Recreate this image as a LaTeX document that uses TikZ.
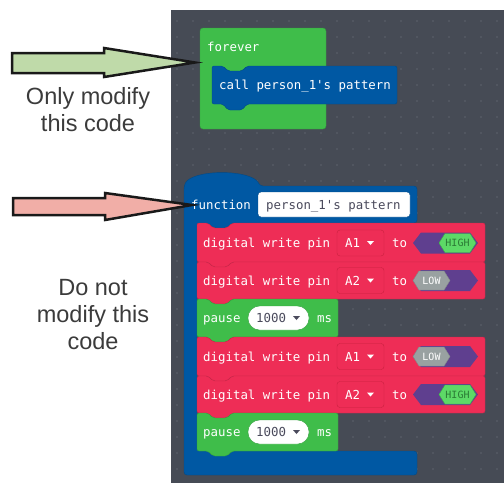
\documentclass[tikz,border=0pt]{standalone}
\usepackage{fontspec}
\setmainfont{Liberation Sans}
\newfontfamily\codefont{DejaVu Sans Mono}
\definecolor{panel}{HTML}{464B55}
\definecolor{gridDot}{HTML}{5D626C}
\definecolor{loopGreen}{HTML}{3FBD4A}
\definecolor{loopEdge}{HTML}{30A03C}
\definecolor{funcBlue}{HTML}{0058A3}
\definecolor{funcEdge}{HTML}{004A88}
\definecolor{pinRed}{HTML}{EE2D56}
\definecolor{pinEdge}{HTML}{C8213F}
\definecolor{boolPurple}{HTML}{5F3F8F}
\definecolor{highGreen}{HTML}{5DD967}
\definecolor{highEdge}{HTML}{3DB048}
\definecolor{highText}{HTML}{2B7A35}
\definecolor{lowGray}{HTML}{99A1A1}
\definecolor{fieldText}{HTML}{4A4A5C}
\definecolor{okArrow}{HTML}{BFDAA9}
\definecolor{noArrow}{HTML}{F1AEA7}
\definecolor{noteText}{HTML}{3B3B3B}

% one statement block: fill, top, right, bottom (left edge is 197)
\newcommand{\stmt}[4]{\filldraw[fill=#1, draw=#1!85!black, rounded corners=2] (197,#2) -- (208,#2) -- (213,#2+5) -- (227,#2+5) -- (232,#2) -- (#3,#2) -- (#3,#4) -- (232,#4) -- (227,#4+5) -- (213,#4+5) -- (208,#4) -- (197,#4) -- cycle;}
% digital write row: name, centre y, pin
\newcommand{\pinrow}[3]{
	\node[code] (#1) at (203,#2) {digital write pin};
	\draw[fill=pinRed, draw=pinEdge, rounded corners=3] (337,#2-13) rectangle (384,#2+13);
	\node[code] (#1pin) at (345,#2) {#3};
	\fill[white] (367,#2-2) -- (374,#2-2) -- (370.5,#2+2) -- cycle;
	\node[code] (#1to) at (392,#2) {to};
	\fill[boolPurple] (413,#2) -- (421,#2-10.5) -- (470,#2-10.5) -- (478,#2) -- (470,#2+10.5) -- (421,#2+10.5) -- cycle;
}
\newcommand{\highval}[2]{
	\filldraw[fill=highGreen, draw=highEdge] (439,#2) -- (445,#2-9.5) -- (470,#2-9.5) -- (476,#2) -- (470,#2+9.5) -- (445,#2+9.5) -- cycle;
	\node[small, text=highText] (#1) at (457.5,#2) {HIGH};
}
\newcommand{\lowval}[2]{
	\filldraw[fill=lowGray, draw=lowGray!85!black] (413,#2) -- (419,#2-9.5) -- (444,#2-9.5) -- (450,#2) -- (444,#2+9.5) -- (419,#2+9.5) -- cycle;
	\node[small, text=white] (#1) at (431.5,#2) {LOW};
}
% pause row: name, centre y
\newcommand{\pauserow}[2]{
	\node[code] (#1) at (203,#2) {pause};
	\draw[fill=white, draw=loopEdge, rounded corners=11.5] (248,#2-12) rectangle (309,#2+12);
	\node[code, text=fieldText] (#1ms) at (256,#2) {1000};
	\fill[fieldText] (293,#2-2) -- (300,#2-2) -- (296.5,#2+2) -- cycle;
	\node[code] (#1unit) at (317,#2) {ms};
}

\begin{document}
\begin{tikzpicture}[x=1pt, y=-1pt,
		code/.style={font=\codefont\fontsize{12.4}{14}\selectfont, text=white, inner sep=0, anchor=west, text height=9pt, text depth=0pt},
		small/.style={font=\codefont\fontsize{10}{12}\selectfont, inner sep=0, text height=7pt, text depth=0pt},
		note/.style={font=\fontsize{23.5}{27}\selectfont, text=noteText, align=center, inner sep=0, anchor=base},
		arrowbody/.style={draw=black!90, line width=2.5pt, line join=miter}]
	\useasboundingbox (0,0) rectangle (504,483);

	% workspace
	\fill[panel] (171,10) rectangle (504,483);
	\foreach \i in {0,...,20}
		\foreach \j in {0,...,28}
			\fill[gridDot] (177+16*\i,21+16*\j) circle (0.9);

	% forever loop
	\filldraw[fill=loopGreen, draw=loopEdge, rounded corners=3] (200,28) rectangle (326,129);
	\node[code] (forever) at (207,47) {forever};
	\filldraw[fill=funcBlue, draw=funcEdge, rounded corners=2] (212,66) -- (223,66) -- (228,71) -- (242,71) -- (247,66) -- (397,66) -- (397,104) -- (247,104) -- (242,110) -- (228,110) -- (223,104) -- (212,104) -- cycle;
	\node[code] (call) at (219,85) {call person\_1's pattern};

	% function definition
	\filldraw[fill=funcBlue, draw=funcEdge, rounded corners=3] (184,186) .. controls (192,169) and (252,169) .. (260,186) -- (417,186) -- (417,223) -- (232,223) -- (227,228) -- (213,228) -- (208,223) -- (197,223) -- (197,451) -- (417,451) -- (417,475) -- (184,475) -- cycle;
	\node[code] (func) at (191,205) {function};
	\draw[fill=white, draw=funcEdge, rounded corners=3] (258,192) rectangle (410,217);
	\node[code, text=fieldText] (funcname) at (266,205) {person\_1's pattern};

	\stmt{pinRed}{223}{485}{262}
	\pinrow{rowa}{243}{A1}
	\highval{vala}{243}
	\stmt{pinRed}{262}{485}{299}
	\pinrow{rowb}{280.5}{A2}
	\lowval{valb}{280.5}
	\stmt{loopGreen}{299}{338}{337}
	\pauserow{waita}{318}
	\stmt{pinRed}{337}{485}{376}
	\pinrow{rowc}{356.5}{A1}
	\lowval{valc}{356.5}
	\stmt{pinRed}{376}{485}{413}
	\pinrow{rowd}{394.5}{A2}
	\highval{vald}{394.5}
	\stmt{loopGreen}{413}{338}{451}
	\pauserow{waitb}{432}

	% notes
	\filldraw[fill=okArrow, arrowbody] (12,53) -- (104,53) -- (104,48) -- (195,62.5) -- (104,77) -- (104,73) -- (12,73) -- cycle;
	\node[note] (onlynote) at (88,131.5) {Only modify\\this code};
	\filldraw[fill=noArrow, arrowbody] (13,198) -- (105,198) -- (105,193) -- (192,205) -- (105,220) -- (105,215) -- (13,215) -- cycle;
	\node[note] (notnote) at (93,349) {Do not\\modify this\\code};
\end{tikzpicture}
\end{document}
